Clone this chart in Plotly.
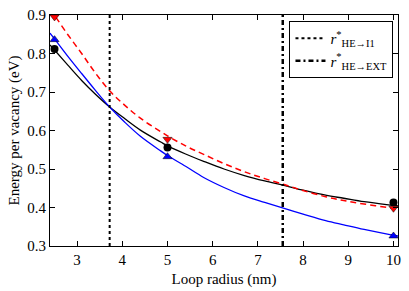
import plotly.graph_objects as go

# measured data points
radius = [2.5, 5, 10]
e_black = [0.812, 0.556, 0.413]
e_blue = [0.836, 0.532, 0.326]
e_red = [0.895, 0.577, 0.398]

# fitted curves
curve_x = [2.4, 2.5, 2.8, 3.1, 3.4, 3.72, 4.05, 4.4, 4.85, 5.0, 5.4, 5.8,
           6.25, 6.7, 7.15, 7.6, 8.0, 8.5, 8.9, 9.35, 9.95, 10.1]
curve_black = [0.822, 0.809, 0.769, 0.730, 0.695, 0.661, 0.631, 0.601, 0.570, 0.560, 0.539, 0.520,
               0.500, 0.483, 0.469, 0.457, 0.445, 0.432, 0.424, 0.415, 0.406, 0.404]
curve_blue = [0.853, 0.838, 0.792, 0.748, 0.705, 0.661, 0.622, 0.585, 0.547, 0.535, 0.507, 0.478,
              0.452, 0.430, 0.413, 0.397, 0.383, 0.366, 0.355, 0.343, 0.329, 0.326]
curve_red = [0.915, 0.899, 0.848, 0.800, 0.750, 0.703, 0.666, 0.632, 0.597, 0.586, 0.560, 0.538,
             0.514, 0.493, 0.475, 0.459, 0.444, 0.428, 0.418, 0.409, 0.399, 0.397]

# critical radii
r_I1 = 3.72
r_EXT = 7.55
y_lim = [0.3, 0.9]
x_lim = [2.4, 10.1]

x_ticks = [3, 4, 5, 6, 7, 8, 9, 10]
y_ticks = [0.3, 0.4, 0.5, 0.6, 0.7, 0.8, 0.9]

font = "Liberation Serif, Times New Roman, serif"

fig = go.Figure()

fig.add_trace(go.Scatter(x=curve_x, y=curve_black, mode="lines", line=dict(color="black", width=1.3, shape="spline"), showlegend=False))
fig.add_trace(go.Scatter(x=curve_x, y=curve_blue, mode="lines", line=dict(color="blue", width=1.3, shape="spline"), showlegend=False))
fig.add_trace(go.Scatter(x=curve_x, y=curve_red, mode="lines", line=dict(color="red", width=1.5, dash="6px,4px", shape="spline"), showlegend=False))

fig.add_trace(go.Scatter(x=[r_I1, r_I1], y=y_lim, mode="lines", line=dict(color="black", width=2, dash="dot"),
                         name="<i>r</i><sup>*</sup><sub>HE→I1</sub>"))
fig.add_trace(go.Scatter(x=[r_EXT, r_EXT], y=y_lim, mode="lines", line=dict(color="black", width=2.5, dash="5px,3px,2px,3px"),
                         name="<i>r</i><sup>*</sup><sub>HE→EXT</sub>"))

fig.add_trace(go.Scatter(x=radius, y=e_black, mode="markers", marker=dict(symbol="circle", color="black", size=8), showlegend=False, cliponaxis=False))
fig.add_trace(go.Scatter(x=radius, y=e_blue, mode="markers", marker=dict(symbol="triangle-up", color="blue", size=8, line=dict(color="black", width=0.5)), showlegend=False, cliponaxis=False))
fig.add_trace(go.Scatter(x=radius, y=e_red, mode="markers", marker=dict(symbol="triangle-down", color="red", size=8, line=dict(color="black", width=0.5)), showlegend=False, cliponaxis=False))

axis_common = dict(showgrid=False, zeroline=False, showline=True, linecolor="black", linewidth=1,
                   mirror="ticks", ticks="inside", ticklen=5, tickcolor="black", tickwidth=1,
                   automargin=False,
                   tickfont=dict(family=font, size=15, color="black"))

fig.update_layout(
    width=409, height=291,
    margin=dict(l=50, r=11, t=15, b=45, autoexpand=False),
    paper_bgcolor="white", plot_bgcolor="white",
    font=dict(family=font, size=15, color="black"),
    xaxis=dict(range=x_lim, tickvals=x_ticks, ticktext=[str(v) for v in x_ticks],
               title=dict(text="Loop radius (nm)", font=dict(family=font, size=15), standoff=6), **axis_common),
    yaxis=dict(range=y_lim, tickvals=y_ticks, ticktext=[f"{v:.1f}" for v in y_ticks],
               title=dict(text="Energy per vacancy (eV)", font=dict(family=font, size=15), standoff=4), **axis_common),
    legend=dict(x=0.987, y=0.974, xanchor="right", yanchor="top", bgcolor="white",
                bordercolor="black", borderwidth=1, font=dict(family=font, size=15),
                itemwidth=30, tracegroupgap=2),
)

fig.write_html("out.html", config={"displayModeBar": False, "responsive": False},
               post_script="document.documentElement.style.margin='0';document.body.style.margin='0';document.body.style.padding='0';")
